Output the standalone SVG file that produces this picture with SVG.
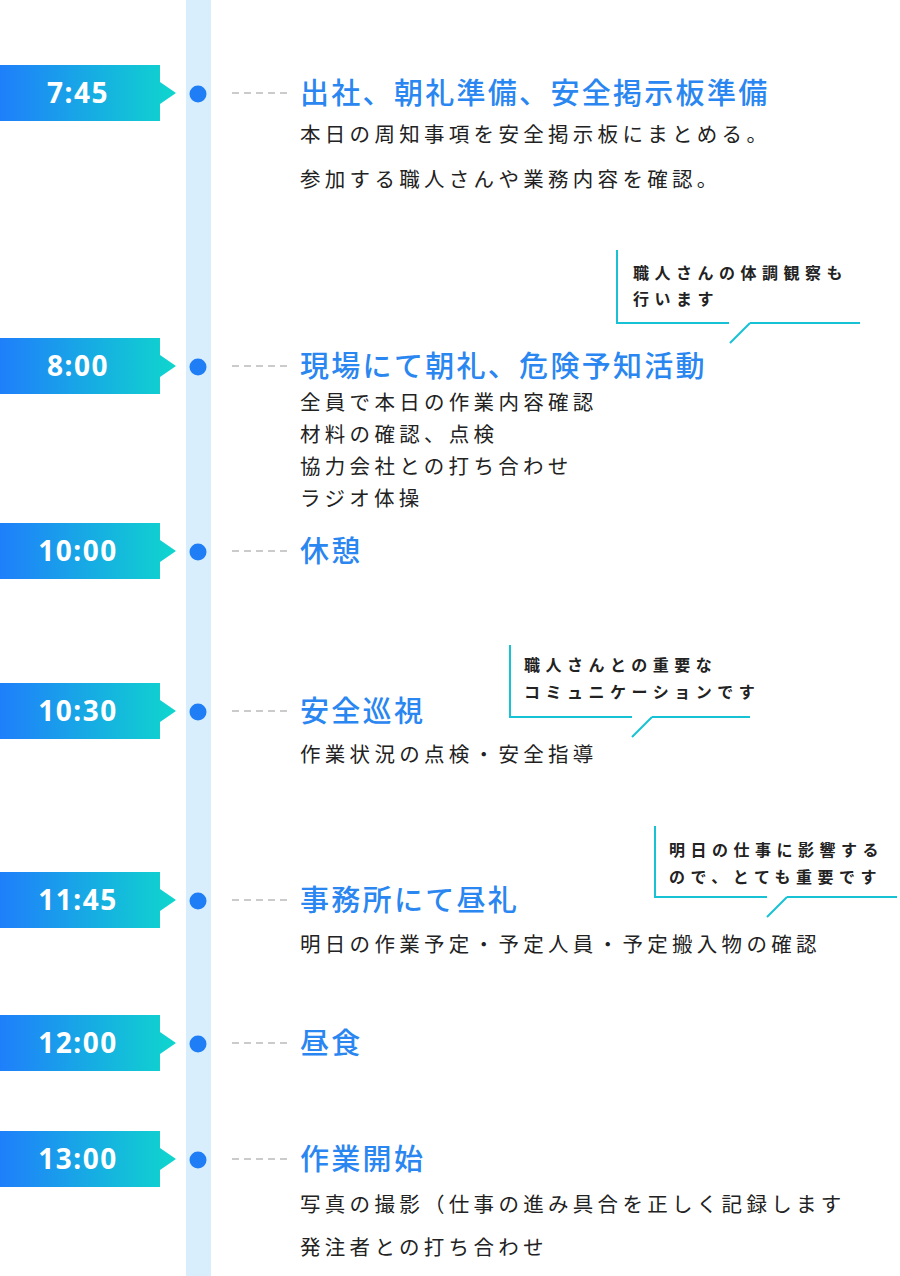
<svg xmlns="http://www.w3.org/2000/svg" width="900" height="1276" viewBox="0 0 900 1276">
<defs>
<linearGradient id="g" x1="0" x2="1" y1="0" y2="0"><stop offset="0" stop-color="#1f7ffb"/><stop offset="1" stop-color="#0fd6cd"/></linearGradient>
<style>
.lbl{fill:#fff;font:bold 28px "Noto Sans","Liberation Sans",sans-serif;text-anchor:middle;letter-spacing:1.5px}
.ttl{fill:#2a86f0;font:500 29px "Noto Sans CJK JP",sans-serif;letter-spacing:2.3px}
.bd{fill:#222;font:400 20.5px "Noto Sans CJK JP",sans-serif;letter-spacing:4.3px}
.cl{fill:#222;font:bold 16px "Noto Sans CJK JP",sans-serif;letter-spacing:5.5px}
.dash{stroke:#bbb;stroke-width:1.5;stroke-dasharray:7 5}
.dot{fill:#1f7ef5}
.co{fill:none;stroke:#16c2d4;stroke-width:2}
</style>
<g id="tag"><path d="M0 0H160V17L176 28L160 39V56H0Z" fill="url(#g)"/></g>
</defs>
<rect x="186" y="0" width="25" height="1276" fill="#d9eefd"/>
<g id="connectors">
<line class="dash" x1="232" y1="93" x2="290" y2="93"/>
<line class="dash" x1="232" y1="366" x2="290" y2="366"/>
<line class="dash" x1="232" y1="551" x2="290" y2="551"/>
<line class="dash" x1="232" y1="711" x2="290" y2="711"/>
<line class="dash" x1="232" y1="900" x2="290" y2="900"/>
<line class="dash" x1="232" y1="1043" x2="290" y2="1043"/>
<line class="dash" x1="232" y1="1159" x2="290" y2="1159"/>
</g>
<g id="n745"><use href="#tag" y="65"/><text class="lbl" x="78" y="103">7:45</text><circle class="dot" cx="198" cy="94" r="8.5"/>
<text class="ttl" x="300" y="104">出社、朝礼準備、安全掲示板準備</text>
<text class="bd" x="300" y="142">本日の周知事項を安全掲示板にまとめる。</text>
<text class="bd" x="300" y="187">参加する職人さんや業務内容を確認。</text></g>
<g id="c1"><path class="co" d="M617 250V323H729M750 323H860M750 323L730 343"/>
<text class="cl" x="633" y="279">職人さんの体調観察も</text><text class="cl" x="633" y="305">行います</text></g>
<g id="n800"><use href="#tag" y="338"/><text class="lbl" x="78" y="376">8:00</text><circle class="dot" cx="198" cy="367" r="8.5"/>
<text class="ttl" x="300" y="377">現場にて朝礼、危険予知活動</text>
<text class="bd" x="300" y="410">全員で本日の作業内容確認</text>
<text class="bd" x="300" y="442">材料の確認、点検</text>
<text class="bd" x="300" y="474">協力会社との打ち合わせ</text>
<text class="bd" x="300" y="506">ラジオ体操</text></g>
<g id="n1000"><use href="#tag" y="523"/><text class="lbl" x="78" y="561">10:00</text><circle class="dot" cx="198" cy="552" r="8.5"/>
<text class="ttl" x="300" y="562">休憩</text></g>
<g id="c2"><path class="co" d="M510 645V717H632M652 717H750M652 717L632 737"/>
<text class="cl" x="524" y="671">職人さんとの重要な</text><text class="cl" x="524" y="698">コミュニケーションです</text></g>
<g id="n1030"><use href="#tag" y="683"/><text class="lbl" x="78" y="721">10:30</text><circle class="dot" cx="198" cy="712" r="8.5"/>
<text class="ttl" x="300" y="722">安全巡視</text>
<text class="bd" x="300" y="762">作業状況の点検・安全指導</text></g>
<g id="c3"><path class="co" d="M655 826V897H767M787 897H897M787 897L767 917"/>
<text class="cl" x="669" y="856">明日の仕事に影響する</text><text class="cl" x="669" y="883">ので、とても重要です</text></g>
<g id="n1145"><use href="#tag" y="872"/><text class="lbl" x="78" y="910">11:45</text><circle class="dot" cx="198" cy="901" r="8.5"/>
<text class="ttl" x="300" y="911">事務所にて昼礼</text>
<text class="bd" x="300" y="952">明日の作業予定・予定人員・予定搬入物の確認</text></g>
<g id="n1200"><use href="#tag" y="1015"/><text class="lbl" x="78" y="1053">12:00</text><circle class="dot" cx="198" cy="1044" r="8.5"/>
<text class="ttl" x="300" y="1054">昼食</text></g>
<g id="n1300"><use href="#tag" y="1131"/><text class="lbl" x="78" y="1169">13:00</text><circle class="dot" cx="198" cy="1160" r="8.5"/>
<text class="ttl" x="300" y="1170">作業開始</text>
<text class="bd" x="300" y="1212">写真の撮影（仕事の進み具合を正しく記録します</text>
<text class="bd" x="300" y="1255">発注者との打ち合わせ</text></g>
</svg>
